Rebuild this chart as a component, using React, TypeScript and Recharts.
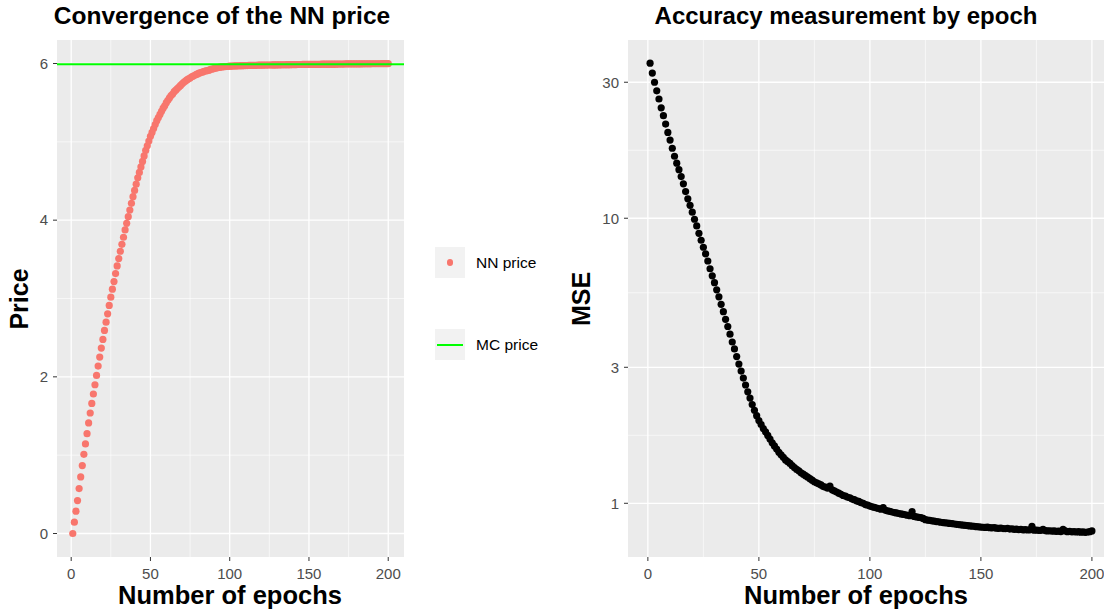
import { ScatterChart, Scatter, XAxis, YAxis, CartesianGrid, ReferenceLine } from 'recharts'

// NN price per epoch (1..200)
const nnPrice = [
  0, 0.145, 0.285, 0.42, 0.574, 0.722, 0.867, 1.011, 1.143, 1.275,
  1.411, 1.538, 1.661, 1.781, 1.899, 2.018, 2.137, 2.252, 2.367, 2.477,
  2.592, 2.698, 2.804, 2.911, 3.017, 3.119, 3.216, 3.318, 3.416, 3.51,
  3.603, 3.692, 3.782, 3.875, 3.96, 4.045, 4.13, 4.215, 4.3, 4.38,
  4.46, 4.54, 4.61, 4.68, 4.75, 4.82, 4.89, 4.95, 5.01, 5.07,
  5.12, 5.17, 5.22, 5.27, 5.31, 5.35, 5.39, 5.43, 5.46, 5.5,
  5.53, 5.56, 5.59, 5.61, 5.64, 5.66, 5.68, 5.7, 5.72, 5.74,
  5.76, 5.775, 5.79, 5.805, 5.815, 5.83, 5.84, 5.85, 5.86, 5.87,
  5.88, 5.885, 5.893, 5.9, 5.905, 5.91, 5.915, 5.925, 5.93, 5.935,
  5.94, 5.945, 5.95, 5.953, 5.956, 5.958, 5.96, 5.962, 5.964, 5.966,
  5.967, 5.968, 5.969, 5.97, 5.97, 5.971, 5.972, 5.972, 5.973, 5.974,
  5.974, 5.975, 5.975, 5.976, 5.976, 5.977, 5.977, 5.978, 5.978, 5.979,
  5.979, 5.98, 5.98, 5.98, 5.981, 5.981, 5.982, 5.982, 5.982, 5.983,
  5.983, 5.983, 5.984, 5.984, 5.984, 5.985, 5.985, 5.985, 5.986, 5.986,
  5.986, 5.986, 5.987, 5.987, 5.987, 5.988, 5.988, 5.988, 5.988, 5.989,
  5.989, 5.989, 5.989, 5.99, 5.99, 5.99, 5.99, 5.991, 5.991, 5.991,
  5.991, 5.991, 5.992, 5.992, 5.992, 5.992, 5.992, 5.993, 5.993, 5.993,
  5.993, 5.993, 5.994, 5.994, 5.994, 5.994, 5.994, 5.995, 5.995, 5.995,
  5.995, 5.995, 5.995, 5.996, 5.996, 5.996, 5.996, 5.996, 5.996, 5.997,
  5.997, 5.997, 5.997, 5.997, 5.997, 5.998, 5.998, 5.998, 5.998, 5.998,
]

// MSE per epoch (1..200)
const mse = [
  35.0, 32.3, 30.0, 28.0, 26.2, 24.4, 22.9, 21.4, 20.0, 18.8,
  17.6, 16.5, 15.6, 14.8, 14.0, 13.2, 12.4, 11.7, 11.1, 10.5,
  9.92, 9.4, 8.85, 8.37, 7.91, 7.5, 7.08, 6.65, 6.28, 5.94,
  5.61, 5.3, 4.99, 4.7, 4.42, 4.17, 3.92, 3.68, 3.48, 3.27,
  3.08, 2.91, 2.75, 2.6, 2.46, 2.34, 2.22, 2.12, 2.03, 1.95,
  1.89, 1.83, 1.78, 1.73, 1.68, 1.63, 1.59, 1.55, 1.51, 1.48,
  1.45, 1.42, 1.4, 1.38, 1.355, 1.335, 1.315, 1.3, 1.28, 1.265,
  1.25, 1.235, 1.22, 1.205, 1.19, 1.18, 1.17, 1.16, 1.145, 1.14,
  1.13, 1.15, 1.115, 1.105, 1.095, 1.085, 1.075, 1.065, 1.06, 1.05,
  1.045, 1.035, 1.03, 1.02, 1.015, 1.005, 1.0, 0.99, 0.985, 0.978,
  0.972, 0.967, 0.962, 0.958, 0.953, 0.965, 0.945, 0.941, 0.937, 0.932,
  0.928, 0.925, 0.921, 0.918, 0.914, 0.911, 0.908, 0.905, 0.935, 0.899,
  0.896, 0.893, 0.89, 0.885, 0.876, 0.873, 0.871, 0.868, 0.866, 0.863,
  0.861, 0.858, 0.856, 0.854, 0.852, 0.85, 0.848, 0.846, 0.844, 0.842,
  0.84, 0.838, 0.836, 0.835, 0.833, 0.831, 0.83, 0.828, 0.827, 0.825,
  0.824, 0.823, 0.825, 0.821, 0.82, 0.822, 0.818, 0.817, 0.819, 0.815,
  0.814, 0.816, 0.812, 0.814, 0.81, 0.811, 0.809, 0.81, 0.807, 0.808,
  0.806, 0.807, 0.83, 0.805, 0.806, 0.803, 0.804, 0.81, 0.802, 0.8,
  0.801, 0.798, 0.8, 0.797, 0.799, 0.796, 0.81, 0.8, 0.795, 0.797,
  0.794, 0.796, 0.793, 0.795, 0.792, 0.794, 0.791, 0.793, 0.795, 0.8,
]

const mcPrice = 5.99

const epochTicks = [0, 50, 100, 150, 200]
const epochMinor = [25, 75, 125, 175]
const priceTicks = [0, 2, 4, 6]
const priceMinor = [1, 3, 5]
const mseTicks = [1, 3, 10, 30]
const mseMinor = [1.732, 5.477, 17.32]

const priceData = nnPrice.map((price, i) => ({ epoch: i + 1, price }))
const mseData = mse.map((value, i) => ({ epoch: i + 1, mse: value }))

const FONT = '"Liberation Sans", Arial, Helvetica, sans-serif'
const tickStyle = { fill: '#4D4D4D', fontSize: 15 }

const dot = (fill: string) => (props: any) => (
  <circle cx={props.cx} cy={props.cy} r={3.6} fill={fill} />
)

const centered = (x: number, y: number, size: number, bold: boolean, rotate = false) => ({
  position: 'absolute' as const,
  left: x,
  top: y,
  transform: `translate(-50%, -50%)${rotate ? ' rotate(-90deg)' : ''}`,
  fontSize: size,
  fontWeight: bold ? 700 : 400,
  whiteSpace: 'nowrap' as const,
  color: '#000',
  lineHeight: 'normal',
})

export default function App() {
  return (
    <div
      style={{
        position: 'absolute',
        left: 0,
        top: 0,
        width: 1104,
        height: 611,
        overflow: 'hidden',
        background: '#fff',
        fontFamily: FONT,
      }}
    >
      {/* left panel */}
      <div style={{ position: 'absolute', left: 0, top: 0 }}>
        <ScatterChart width={420} height={611} margin={{ top: 40, right: 16, bottom: 24, left: 0 }}>
          <CartesianGrid
            fill="#EBEBEB"
            stroke="#FFFFFF"
            strokeWidth={0.6}
            horizontalValues={priceMinor}
            verticalValues={epochMinor}
          />
          <CartesianGrid
            stroke="#FFFFFF"
            strokeWidth={1.3}
            horizontalValues={priceTicks}
            verticalValues={epochTicks}
          />
          <XAxis
            type="number"
            dataKey="epoch"
            domain={[-8.95, 209.95]}
            ticks={epochTicks}
            height={30}
            axisLine={false}
            tickLine={{ stroke: '#333333' }}
            tickSize={4}
            tickMargin={7}
            tick={tickStyle}
          />
          <YAxis
            type="number"
            dataKey="price"
            domain={[-0.3, 6.3]}
            ticks={priceTicks}
            width={57}
            axisLine={false}
            tickLine={{ stroke: '#333333' }}
            tickSize={4}
            tickMargin={5}
            tick={tickStyle}
          />
          <Scatter data={priceData} shape={dot('#F8766D')} isAnimationActive={false} />
          <ReferenceLine y={mcPrice} stroke="#00FF00" strokeWidth={2} {...({ zIndex: 2000 } as any)} />
        </ScatterChart>
      </div>

      <div style={centered(222, 16, 24.5, true)}>Convergence of the NN price</div>
      <div style={centered(230, 595, 25.5, true)}>Number of epochs</div>
      <div style={centered(19, 299, 25, true, true)}>Price</div>

      {/* legend */}
      <div style={{ position: 'absolute', left: 435, top: 247, width: 30, height: 31, background: '#F2F2F2' }}>
        <div
          style={{
            position: 'absolute',
            left: 15 - 3.4,
            top: 15.5 - 3.4,
            width: 6.8,
            height: 6.8,
            borderRadius: '50%',
            background: '#F8766D',
          }}
        />
      </div>
      <div style={{ ...centered(476, 263, 15.5, false), transform: 'translate(0, -50%)' }}>NN price</div>
      <div style={{ position: 'absolute', left: 435, top: 329, width: 30, height: 31, background: '#F2F2F2' }}>
        <div style={{ position: 'absolute', left: 2, top: 15, width: 26, height: 2, background: '#00FF00' }} />
      </div>
      <div style={{ ...centered(476, 345, 15.5, false), transform: 'translate(0, -50%)' }}>MC price</div>

      {/* right panel */}
      <div style={{ position: 'absolute', left: 560, top: 0 }}>
        <ScatterChart width={560} height={611} margin={{ top: 40, right: 6, bottom: 24, left: 0 }}>
          <CartesianGrid
            fill="#EBEBEB"
            stroke="#FFFFFF"
            strokeWidth={0.6}
            horizontalValues={mseMinor}
            verticalValues={epochMinor}
          />
          <CartesianGrid
            stroke="#FFFFFF"
            strokeWidth={1.3}
            horizontalValues={mseTicks}
            verticalValues={epochTicks}
          />
          <XAxis
            type="number"
            dataKey="epoch"
            domain={[-8.95, 209.95]}
            ticks={epochTicks}
            height={30}
            axisLine={false}
            tickLine={{ stroke: '#333333' }}
            tickSize={4}
            tickMargin={7}
            tick={tickStyle}
          />
          <YAxis
            type="number"
            dataKey="mse"
            scale="log"
            domain={[0.648, 42.2]}
            allowDataOverflow
            ticks={mseTicks}
            width={68}
            axisLine={false}
            tickLine={{ stroke: '#333333' }}
            tickSize={4}
            tickMargin={5}
            tick={tickStyle}
          />
          <Scatter data={mseData} shape={dot('#000000')} isAnimationActive={false} />
        </ScatterChart>
      </div>

      <div style={centered(846, 16, 24, true)}>Accuracy measurement by epoch</div>
      <div style={centered(856, 595, 25.5, true)}>Number of epochs</div>
      <div style={centered(581, 299, 25, true, true)}>MSE</div>
    </div>
  )
}
